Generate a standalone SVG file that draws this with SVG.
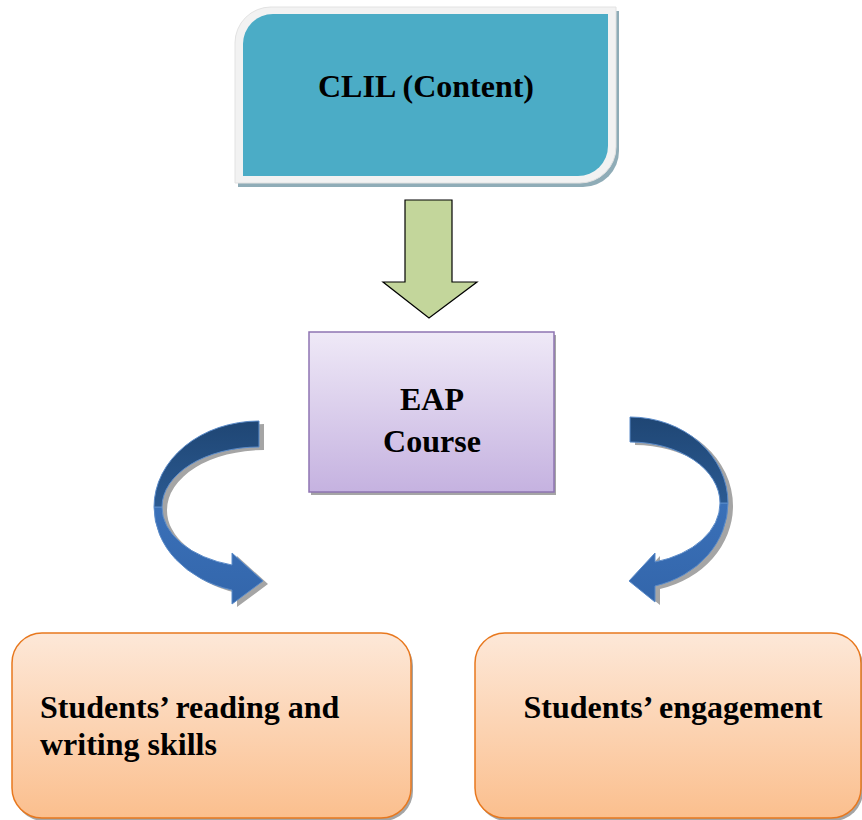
<svg xmlns="http://www.w3.org/2000/svg" width="862" height="820" viewBox="0 0 862 820">
<defs>
<style>
.t{font-family:"Liberation Serif","Times New Roman",serif;font-weight:bold;font-size:32px;fill:#000}
.mid{text-anchor:middle}
.shadow{fill:#a5a5a5}
.band{stroke:#5b8bc9;stroke-width:1}
</style>
<linearGradient id="gPurple" x1="0" y1="0" x2="0" y2="1">
<stop offset="0" stop-color="#efe9f7"/>
<stop offset="1" stop-color="#c5b2e0"/>
</linearGradient>
<linearGradient id="gOrange" x1="0" y1="0" x2="0" y2="1">
<stop offset="0" stop-color="#fde8d8"/>
<stop offset="1" stop-color="#fbbf8e"/>
</linearGradient>
<linearGradient id="gDark" x1="0" y1="0" x2="0" y2="1">
<stop offset="0" stop-color="#1f4674"/>
<stop offset="1" stop-color="#2b5a92"/>
</linearGradient>
<linearGradient id="gLight" x1="0" y1="0" x2="0" y2="1">
<stop offset="0" stop-color="#3a70b8"/>
<stop offset="1" stop-color="#3366ab"/>
</linearGradient>
</defs>

<g id="clil">
<path d="M274,11 H619 V151 A36,36 0 0 1 583,187 H238 V47 A36,36 0 0 1 274,11 Z" fill="#8facb7"/>
<path d="M271,7 H616 V147 A36,36 0 0 1 580,183 H235 V43 A36,36 0 0 1 271,7 Z" fill="#f2f2f2" stroke="#e2e2e2" stroke-width="1"/>
<path d="M273,14 H608 V146 A30,30 0 0 1 578,176 H243 V44 A30,30 0 0 1 273,14 Z" fill="#4bacc6"/>
<text class="t mid" x="426" y="97">CLIL (Content)</text>
</g>

<g id="eap">
<rect x="311" y="335" width="245" height="160" class="shadow"/>
<rect x="309" y="332" width="245" height="160" fill="url(#gPurple)" stroke="#8e74b2" stroke-width="1.5"/>
<text class="t mid" x="432" y="410">EAP</text>
<text class="t mid" x="432" y="452">Course</text>
</g>

<g id="reading">
<rect x="14" y="636" width="399" height="185" rx="30" class="shadow"/>
<rect x="12" y="633" width="399" height="185" rx="30" fill="url(#gOrange)" stroke="#e8781e" stroke-width="1.5"/>
<text class="t" x="40" y="718">Students’ reading and</text>
<text class="t" x="40" y="755">writing skills</text>
</g>

<g id="engagement">
<rect x="477" y="636" width="386" height="185" rx="30" class="shadow"/>
<rect x="475" y="633" width="386" height="185" rx="30" fill="url(#gOrange)" stroke="#e8781e" stroke-width="1.5"/>
<text class="t mid" x="673" y="718">Students’ engagement</text>
</g>

<g id="connectors">
<polygon points="405,200 452,200 452,282 477,282 429,318 383,282 405,282" fill="#c3d69b" stroke="#000" stroke-width="1.2"/>

<g id="curve-left">
<g transform="translate(5,3)" class="shadow">
<path d="M259,421 A105,86 0 0 0 154,507 L162,507 A97,60 0 0 1 259,447 Z"/>
<path d="M154,507 A105,86 0 0 0 232,590 L232,604 L263,581 L232,553 L232,565 A97,60 0 0 1 162,507 Z"/>
</g>
<path class="band" d="M154,507 A105,86 0 0 0 232,590 L232,604 L263,581 L232,553 L232,565 A97,60 0 0 1 162,507 Z" fill="url(#gLight)"/>
<path class="band" d="M259,421 A105,86 0 0 0 154,507 L162,507 A97,60 0 0 1 259,447 Z" fill="url(#gDark)"/>
</g>

<g id="curve-right">
<g transform="translate(5,3)" class="shadow">
<path d="M630,417 A98,86 0 0 1 728,503 L720,503 A90,61 0 0 0 630,442 Z"/>
<path d="M728,503 A98,86 0 0 1 655,586 L655,602 L629,581 L655,553 L655,562 A90,61 0 0 0 720,503 Z"/>
</g>
<path class="band" d="M728,503 A98,86 0 0 1 655,586 L655,602 L629,581 L655,553 L655,562 A90,61 0 0 0 720,503 Z" fill="url(#gLight)"/>
<path class="band" d="M630,417 A98,86 0 0 1 728,503 L720,503 A90,61 0 0 0 630,442 Z" fill="url(#gDark)"/>
</g>
</g>
</svg>
